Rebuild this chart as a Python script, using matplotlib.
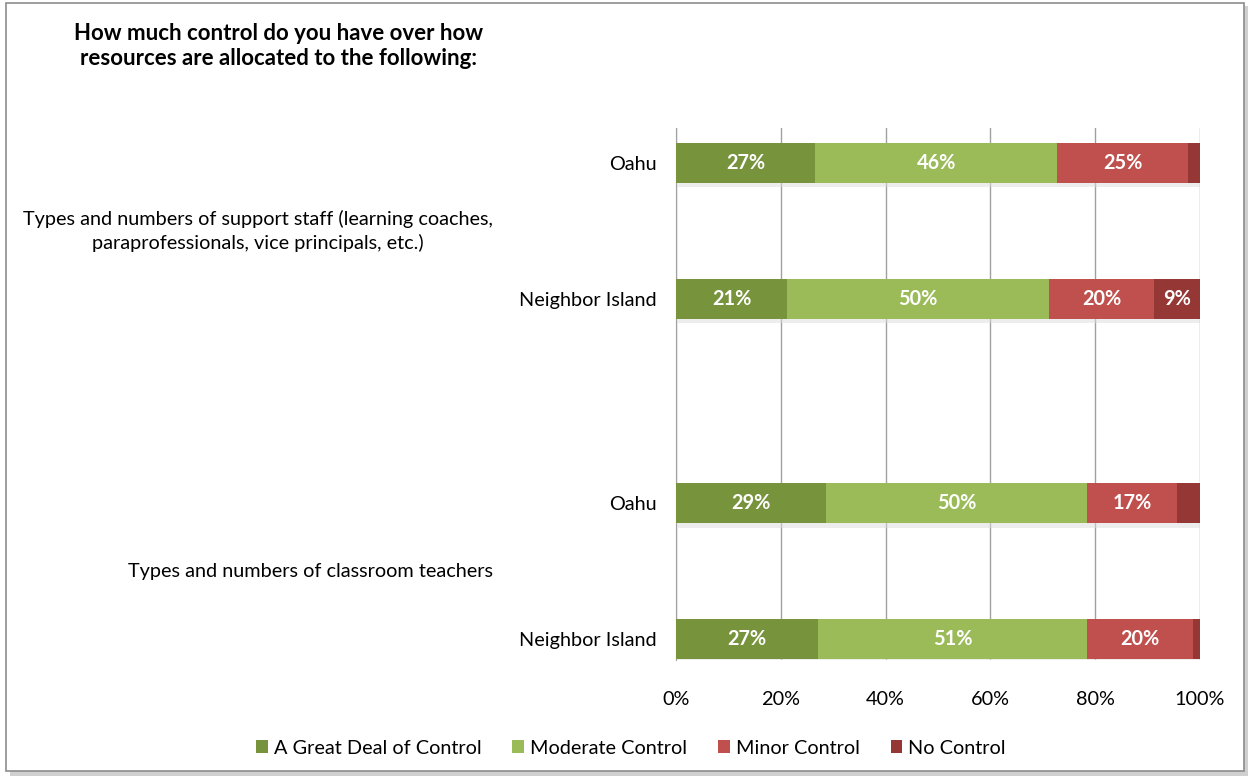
import matplotlib
matplotlib.use("Agg")
import matplotlib.pyplot as plt
from matplotlib.patches import Rectangle, Patch
import numpy as np

plt.rcParams['font.family'] = ['Lato', 'DejaVu Sans']

title = "How much control do you have over how\nresources are allocated to the following:"
groups = ["Types and numbers of support staff (learning coaches,\nparaprofessionals, vice principals, etc.)",
          "Types and numbers of classroom teachers"]
subcats = ["Oahu", "Neighbor Island", "Oahu", "Neighbor Island"]
series = ["A Great Deal of Control", "Moderate Control", "Minor Control", "No Control"]
great = [26.6, 21.2, 28.6, 27.1]
moderate = [46.1, 50.0, 49.9, 51.3]
minor = [25.0, 20.0, 17.1, 20.3]
nocontrol = [2.3, 8.8, 4.4, 1.3]
colors = ["#77933C", "#9BBB59", "#C0504D", "#953735"]
xticks = [0, 20, 40, 60, 80, 100]

FS = 14.3
W, H = 1250, 781
fig = plt.figure(figsize=(W/100, H/100), dpi=100)

# frame with shadow
fig.patches.append(Rectangle((10/W, 1-(776/H)), 1238/W, 770/H, transform=fig.transFigure,
                             facecolor="#d0d0d0", edgecolor="none", zorder=0))
fig.patches.append(Rectangle((6/W, 1-(771/H)), 1238/W, 768/H, transform=fig.transFigure,
                             facecolor="white", edgecolor="#8c8c8c", lw=1.2, zorder=1))

ax_l, ax_r = 676/W, 1200/W
ax_t, ax_b = 1-128/H, 1-660/H
ax = fig.add_axes([ax_l, ax_b, ax_r-ax_l, ax_t-ax_b])
ax.set_zorder(2)
ax.patch.set_alpha(0)

ypos = np.array([0, 1, 2.5, 3.5])
bh = 0.29
data = [great, moderate, minor, nocontrol]
left = np.zeros(4)
for vals, c, name in zip(data, colors, series):
    vals = np.array(vals)
    ax.barh(ypos + 0.035, vals, left=left + 0.4, height=bh, color="#dcdcdc", zorder=2, alpha=0.5)
    ax.barh(ypos, vals, left=left, height=bh, color=c, zorder=3, label=name)
    for y, l, v in zip(ypos, left, vals):
        if v >= 5:
            ax.text(l + v/2, y, f"{v:.0f}%", ha="center", va="center", color="white",
                    fontsize=FS, fontweight="bold", zorder=4)
    left += vals

ax.set_xlim(0, 100)
ax.set_ylim(3.654, -0.257)
ax.set_xticks(xticks)
ax.set_xticklabels([f"{t}%" for t in xticks], fontsize=FS)
ax.xaxis.grid(True, color="#a0a0a0", lw=1)
ax.set_axisbelow(True)
ax.set_yticks(ypos)
ax.set_yticklabels(subcats, fontsize=FS)
ax.tick_params(axis="y", length=0, pad=14)
ax.tick_params(axis="x", length=0, pad=22)
for s in ["top", "right", "bottom"]:
    ax.spines[s].set_visible(False)
ax.spines["left"].set_color("#a0a0a0")

fig.text(258/W, 1-231/H, groups[0], ha="center", va="center", fontsize=FS, linespacing=1.4)
fig.text(310/W, 1-571/H, groups[1], ha="center", va="center", fontsize=FS)
fig.text(279/W, 1-46/H, title, ha="center", va="center", fontsize=16, fontweight="bold",
         linespacing=1.2)

handles = [Patch(facecolor=c, label=s) for c, s in zip(colors, series)]
fig.legend(handles=handles, loc="center", bbox_to_anchor=(631/W, 1-748/H), ncol=4,
           frameon=False, fontsize=FS, handlelength=0.6, handleheight=0.6,
           handletextpad=0.3, columnspacing=1.55)

fig.savefig("out.png", dpi=100)
